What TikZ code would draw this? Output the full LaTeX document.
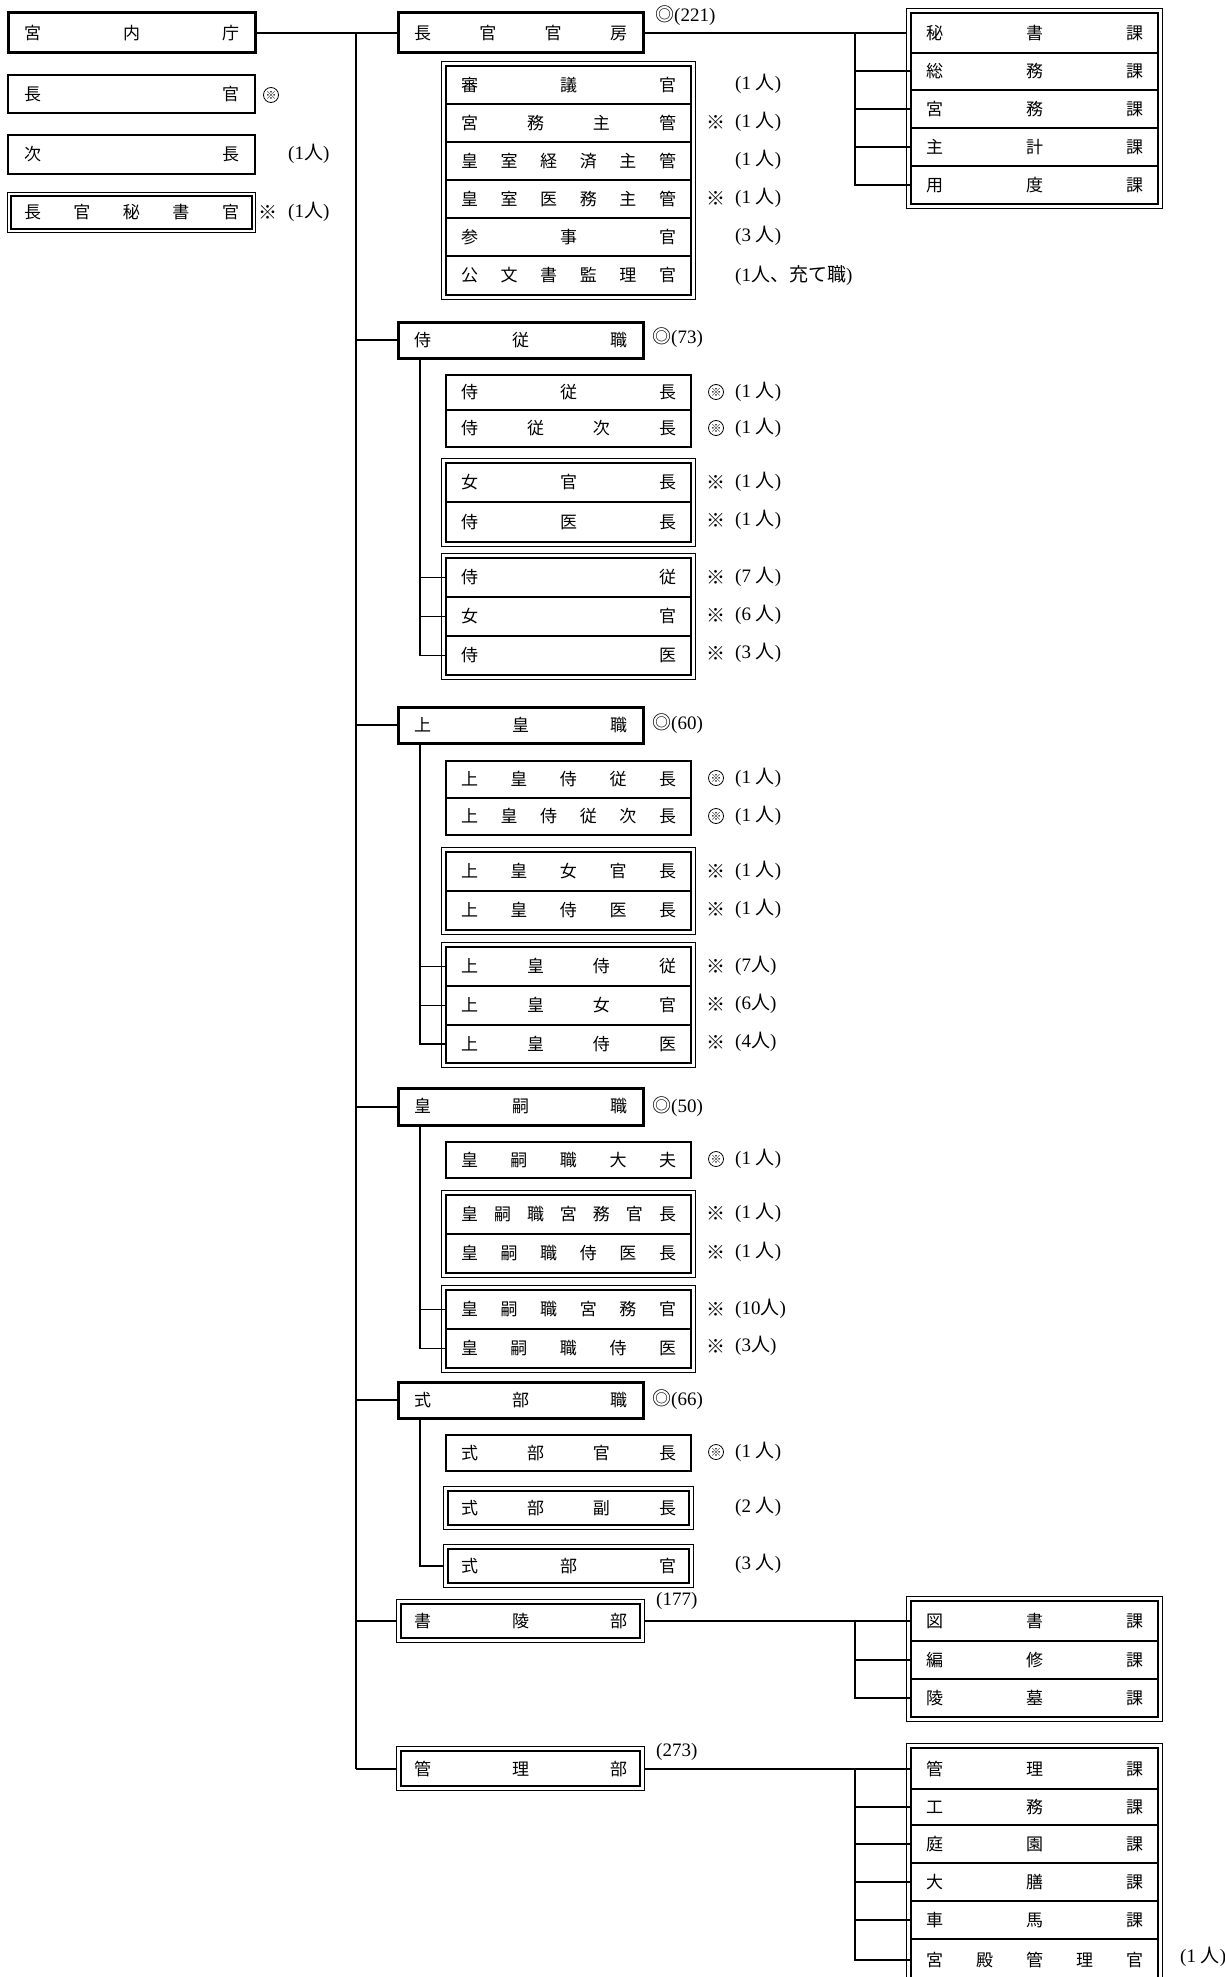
\documentclass[tikz,border=0pt]{standalone}
\usepackage{fontspec}
\setmainfont{Liberation Serif}
\newfontfamily\cjk{Noto Sans CJK JP}
\usetikzlibrary{fit}
\newcommand\hf{\hfill}
\newcommand\nin[1]{(#1\ {\cjk 人})}
\newcommand\nint[1]{(#1{\cjk 人})}
\newcommand\mk{\tikz[baseline=-6pt,x=1pt,y=1pt]{\draw[line width=0.8pt] (0,0) circle (7.5pt); \node[inner sep=0pt, font=\cjk\fontsize{11}{11}\selectfont] at (0,0) {※};}}
\newcommand\km{{\cjk ※}}
\newcommand\nj{{\cjk ◎}}
\begin{document}
\begin{tikzpicture}[x=1pt,y=-1pt,
  bx/.style={draw, line width=2.4pt, inner sep=0pt, font=\cjk\fontsize{17}{17}\selectfont, minimum height=#1},
  bx/.default=38pt,
  lw/.style={minimum width=247pt, text width=215pt},
  dw/.style={minimum width=245pt, text width=213pt},
  sw/.style={minimum width=245pt, text width=215pt},
  sdw/.style={minimum width=241pt, text width=213pt},
  kw/.style={minimum width=247pt, text width=217pt},
  frame/.style={draw, line width=0.9pt, inner sep=3pt},
  ann/.style={inner sep=0pt, font=\fontsize{19}{19}\selectfont},
  anw/.style={ann, anchor=west},
  trunk/.style={line width=1.4pt},
  conn/.style={line width=2pt},
  subc/.style={line width=1.3pt}
]
\useasboundingbox (0,0) rectangle (1225,1977);

% ---------- left column ----------
\node[bx=40pt, lw, line width=3pt] (kunaicho) at (131.5,33) {宮\hf 内\hf 庁};
\node[bx=38pt, lw] (chokan) at (131.5,94) {長\hf 官};
\node[ann] (a-chokan) at (271,95) {\mk};
\node[bx=39pt, lw] (jicho) at (131.5,154.5) {次\hf 長};
\node[anw] (a-jicho) at (288,154) {\nint{1}};
\node[bx=33pt, sdw, minimum width=241pt, text width=215pt, line width=1.6pt] (hisho-in) at (131.5,212.5) {長\hf 官\hf 秘\hf 書\hf 官};
\node[frame, fit=(hisho-in)] (hisho) {};
\node[ann] (k-hisho) at (268,212) {\km};
\node[anw] (a-hisho) at (288,212) {\nint{1}};

% ---------- departments ----------
\node[bx=40pt, dw, line width=3pt] (kanbo) at (520.5,33) {長\hf 官\hf 官\hf 房};
\node[anw] (a-kanbo) at (655,16) {\nj(221)};
\node[bx=36pt, dw, line width=3pt] (jiju) at (520.5,340) {侍\hf 従\hf 職};
\node[anw] (a-jiju) at (652,338) {\nj(73)};
\node[bx=36pt, dw, line width=3pt] (joko) at (520.5,725) {上\hf 皇\hf 職};
\node[anw] (a-joko) at (652,724) {\nj(60)};
\node[bx=37pt, dw, line width=3pt] (koshi) at (520.5,1106.5) {皇\hf 嗣\hf 職};
\node[anw] (a-koshi) at (652,1107) {\nj(50)};
\node[bx=36pt, dw, line width=3pt] (shikibu) at (520.5,1400) {式\hf 部\hf 職};
\node[anw] (a-shikibu) at (652,1400) {\nj(66)};
\node[bx=34pt, sdw, minimum width=239pt] (shoryo-in) at (520.5,1621) {書\hf 陵\hf 部};
\node[frame, fit=(shoryo-in)] (shoryo) {};
\node[anw] (a-shoryo) at (656,1601) {(177)};
\node[bx=35pt, sdw, minimum width=239pt] (kanri-in) at (520.5,1768.5) {管\hf 理\hf 部};
\node[frame, fit=(kanri-in)] (kanri) {};
\node[anw] (a-kanri) at (656,1752) {(273)};

% ---------- 長官官房 sub ----------
\node[bx=38pt, sw] (s1) at (568.5,85) {審\hf 議\hf 官};
\node[bx=38pt, sw] (s2) at (568.5,123) {宮\hf 務\hf 主\hf 管};
\node[bx=38pt, sw] (s3) at (568.5,161) {皇\hf 室\hf 経\hf 済\hf 主\hf 管};
\node[bx=38pt, sw] (s4) at (568.5,199) {皇\hf 室\hf 医\hf 務\hf 主\hf 管};
\node[bx=38pt, sw] (s5) at (568.5,237) {参\hf 事\hf 官};
\node[bx=39pt, sw] (s6) at (568.5,275.5) {公\hf 文\hf 書\hf 監\hf 理\hf 官};
\node[frame, fit=(s1)(s6)] (gs) {};
\node[anw] (as1) at (735,84) {\nin{1}};
\node[ann] (ks2) at (716,122) {\km};
\node[anw] (as2) at (735,122) {\nin{1}};
\node[anw] (as3) at (735,160) {\nin{1}};
\node[ann] (ks4) at (716,198) {\km};
\node[anw] (as4) at (735,198) {\nin{1}};
\node[anw] (as5) at (735,236) {\nin{3}};
\node[anw] (as6) at (735,276) {(1{\cjk 人、充て職})};

% ---------- 侍従職 sub ----------
\node[bx=35pt, sw] (j1) at (568.5,392.5) {侍\hf 従\hf 長};
\node[bx=37pt, sw] (j2) at (568.5,428.5) {侍\hf 従\hf 次\hf 長};
\node[bx=39pt, sw] (j3) at (568.5,482.5) {女\hf 官\hf 長};
\node[bx=40pt, sw] (j4) at (568.5,522) {侍\hf 医\hf 長};
\node[frame, fit=(j3)(j4)] (gj2) {};
\node[bx=39pt, sw] (j5) at (568.5,577.5) {侍\hf 従};
\node[bx=39pt, sw] (j6) at (568.5,616.5) {女\hf 官};
\node[bx=39pt, sw] (j7) at (568.5,655.5) {侍\hf 医};
\node[frame, fit=(j5)(j7)] (gj3) {};
\node[ann] (kj1) at (716,392) {\mk};
\node[anw] (aj1) at (735,392) {\nin{1}};
\node[ann] (kj2) at (716,428) {\mk};
\node[anw] (aj2) at (735,428) {\nin{1}};
\node[ann] (kj3) at (716,482) {\km};
\node[anw] (aj3) at (735,482) {\nin{1}};
\node[ann] (kj4) at (716,520) {\km};
\node[anw] (aj4) at (735,520) {\nin{1}};
\node[ann] (kj5) at (716,577) {\km};
\node[anw] (aj5) at (735,577) {\nin{7}};
\node[ann] (kj6) at (716,615) {\km};
\node[anw] (aj6) at (735,615) {\nin{6}};
\node[ann] (kj7) at (716,653) {\km};
\node[anw] (aj7) at (735,653) {\nin{3}};

% ---------- 上皇職 sub ----------
\node[bx=37pt, sw] (u1) at (568.5,779.5) {上\hf 皇\hf 侍\hf 従\hf 長};
\node[bx=37pt, sw] (u2) at (568.5,816.5) {上\hf 皇\hf 侍\hf 従\hf 次\hf 長};
\node[bx=39pt, sw] (u3) at (568.5,871.5) {上\hf 皇\hf 女\hf 官\hf 長};
\node[bx=39pt, sw] (u4) at (568.5,910.5) {上\hf 皇\hf 侍\hf 医\hf 長};
\node[frame, fit=(u3)(u4)] (gu2) {};
\node[bx=39pt, sw] (u5) at (568.5,966.5) {上\hf 皇\hf 侍\hf 従};
\node[bx=39pt, sw] (u6) at (568.5,1005.5) {上\hf 皇\hf 女\hf 官};
\node[bx=38pt, sw] (u7) at (568.5,1044) {上\hf 皇\hf 侍\hf 医};
\node[frame, fit=(u5)(u7)] (gu3) {};
\node[ann] (ku1) at (716,778) {\mk};
\node[anw] (au1) at (735,778) {\nin{1}};
\node[ann] (ku2) at (716,816) {\mk};
\node[anw] (au2) at (735,816) {\nin{1}};
\node[ann] (ku3) at (716,871) {\km};
\node[anw] (au3) at (735,871) {\nin{1}};
\node[ann] (ku4) at (716,909) {\km};
\node[anw] (au4) at (735,909) {\nin{1}};
\node[ann] (ku5) at (716,966) {\km};
\node[anw] (au5) at (735,966) {\nint{7}};
\node[ann] (ku6) at (716,1004) {\km};
\node[anw] (au6) at (735,1004) {\nint{6}};
\node[ann] (ku7) at (716,1042) {\km};
\node[anw] (au7) at (735,1042) {\nint{4}};

% ---------- 皇嗣職 sub ----------
\node[bx=36pt, sw] (h1) at (568.5,1160) {皇\hf 嗣\hf 職\hf 大\hf 夫};
\node[bx=39pt, sw] (h2) at (568.5,1214.5) {皇\hf 嗣\hf 職\hf 宮\hf 務\hf 官\hf 長};
\node[bx=39pt, sw] (h3) at (568.5,1253.5) {皇\hf 嗣\hf 職\hf 侍\hf 医\hf 長};
\node[frame, fit=(h2)(h3)] (gh2) {};
\node[bx=39pt, sw] (h4) at (568.5,1309.5) {皇\hf 嗣\hf 職\hf 宮\hf 務\hf 官};
\node[bx=39pt, sw] (h5) at (568.5,1348.5) {皇\hf 嗣\hf 職\hf 侍\hf 医};
\node[frame, fit=(h4)(h5)] (gh3) {};
\node[ann] (kh1) at (716,1159) {\mk};
\node[anw] (ah1) at (735,1159) {\nin{1}};
\node[ann] (kh2) at (716,1213) {\km};
\node[anw] (ah2) at (735,1213) {\nin{1}};
\node[ann] (kh3) at (716,1252) {\km};
\node[anw] (ah3) at (735,1252) {\nin{1}};
\node[ann] (kh4) at (716,1309) {\km};
\node[anw] (ah4) at (735,1309) {\nint{10}};
\node[ann] (kh5) at (716,1346) {\km};
\node[anw] (ah5) at (735,1346) {\nint{3}};

% ---------- 式部職 sub ----------
\node[bx=36pt, sw] (b1) at (568.5,1453) {式\hf 部\hf 官\hf 長};
\node[bx=34pt, sdw, text width=215pt] (b2-in) at (568.5,1508) {式\hf 部\hf 副\hf 長};
\node[frame, fit=(b2-in)] (b2) {};
\node[bx=34pt, sdw, text width=215pt] (b3-in) at (568.5,1566) {式\hf 部\hf 官};
\node[frame, fit=(b3-in)] (b3) {};
\node[ann] (kb1) at (716,1452) {\mk};
\node[anw] (ab1) at (735,1452) {\nin{1}};
\node[anw] (ab2) at (735,1507) {\nin{2}};
\node[anw] (ab3) at (735,1564) {\nin{3}};

% ---------- 課 ----------
\node[bx=40pt, kw] (k1) at (1034.5,33) {秘\hf 書\hf 課};
\node[bx=37pt, kw] (k2) at (1034.5,71.5) {総\hf 務\hf 課};
\node[bx=38pt, kw] (k3) at (1034.5,109) {宮\hf 務\hf 課};
\node[bx=38pt, kw] (k4) at (1034.5,147) {主\hf 計\hf 課};
\node[bx=38pt, kw] (k5) at (1034.5,185) {用\hf 度\hf 課};
\node[frame, fit=(k1)(k5)] (gk1) {};
\node[bx=40pt, kw] (k6) at (1034.5,1621) {図\hf 書\hf 課};
\node[bx=38pt, kw] (k7) at (1034.5,1660) {編\hf 修\hf 課};
\node[bx=38pt, kw] (k8) at (1034.5,1698) {陵\hf 墓\hf 課};
\node[frame, fit=(k6)(k8)] (gk2) {};
\node[bx=41pt, kw] (k9) at (1034.5,1768.5) {管\hf 理\hf 課};
\node[bx=36pt, kw] (k10) at (1034.5,1807) {工\hf 務\hf 課};
\node[bx=38pt, kw] (k11) at (1034.5,1844) {庭\hf 園\hf 課};
\node[bx=38pt, kw] (k12) at (1034.5,1882) {大\hf 膳\hf 課};
\node[bx=38pt, kw] (k13) at (1034.5,1920) {車\hf 馬\hf 課};
\node[bx=42pt, kw] (k14) at (1034.5,1960) {宮\hf 殿\hf 管\hf 理\hf 官};
\node[frame, fit=(k9)(k14)] (gk3) {};
\node[anw] (ak14) at (1180,1957) {\nin{1}};

% ---------- connectors ----------
\draw[conn] (kunaicho.east) -- (kanbo.west);
\coordinate (t0) at (356,33);
\draw[trunk] (t0) |- (kanri.west);
\draw[conn] (t0 |- jiju.west) -- (jiju.west);
\draw[conn] (t0 |- joko.west) -- (joko.west);
\draw[conn] (t0 |- koshi.west) -- (koshi.west);
\draw[conn] (t0 |- shikibu.west) -- (shikibu.west);
\draw[conn] (t0 |- shoryo.west) -- (shoryo.west);
\draw[conn] (t0 |- kanri.west) -- (kanri.west);

\draw[conn] (kanbo.east) -- (gk1.west |- k1.west);
\coordinate (bk1) at (855,33);
\draw[conn] (bk1) |- (k5.west);
\draw[conn] (bk1 |- k2.west) -- (k2.west);
\draw[conn] (bk1 |- k3.west) -- (k3.west);
\draw[conn] (bk1 |- k4.west) -- (k4.west);

\draw[conn] (shoryo.east) -- (k6.west);
\coordinate (bk2) at (855,1621);
\draw[conn] (bk2) |- (k8.west);
\draw[conn] (bk2 |- k7.west) -- (k7.west);

\draw[conn] (kanri.east) -- (k9.west);
\coordinate (bk3) at (855,1768.5);
\draw[conn] (bk3) |- (k14.west);
\draw[conn] (bk3 |- k10.west) -- (k10.west);
\draw[conn] (bk3 |- k11.west) -- (k11.west);
\draw[conn] (bk3 |- k12.west) -- (k12.west);
\draw[conn] (bk3 |- k13.west) -- (k13.west);

\coordinate (vj) at (420,358);
\draw[subc] (vj) |- (j7.west);
\draw[subc] (vj |- j5.west) -- (j5.west);
\draw[subc] (vj |- j6.west) -- (j6.west);

\coordinate (vu) at (420,743);
\draw[subc] (vu) |- (u7.west);
\draw[subc] (vu |- u5.west) -- (u5.west);
\draw[subc] (vu |- u6.west) -- (u6.west);

\coordinate (vh) at (420,1125);
\draw[subc] (vh) |- (h5.west);
\draw[subc] (vh |- h4.west) -- (h4.west);

\coordinate (vb) at (420,1418);
\draw[subc] (vb) |- (b3.west);
\end{tikzpicture}
\end{document}
